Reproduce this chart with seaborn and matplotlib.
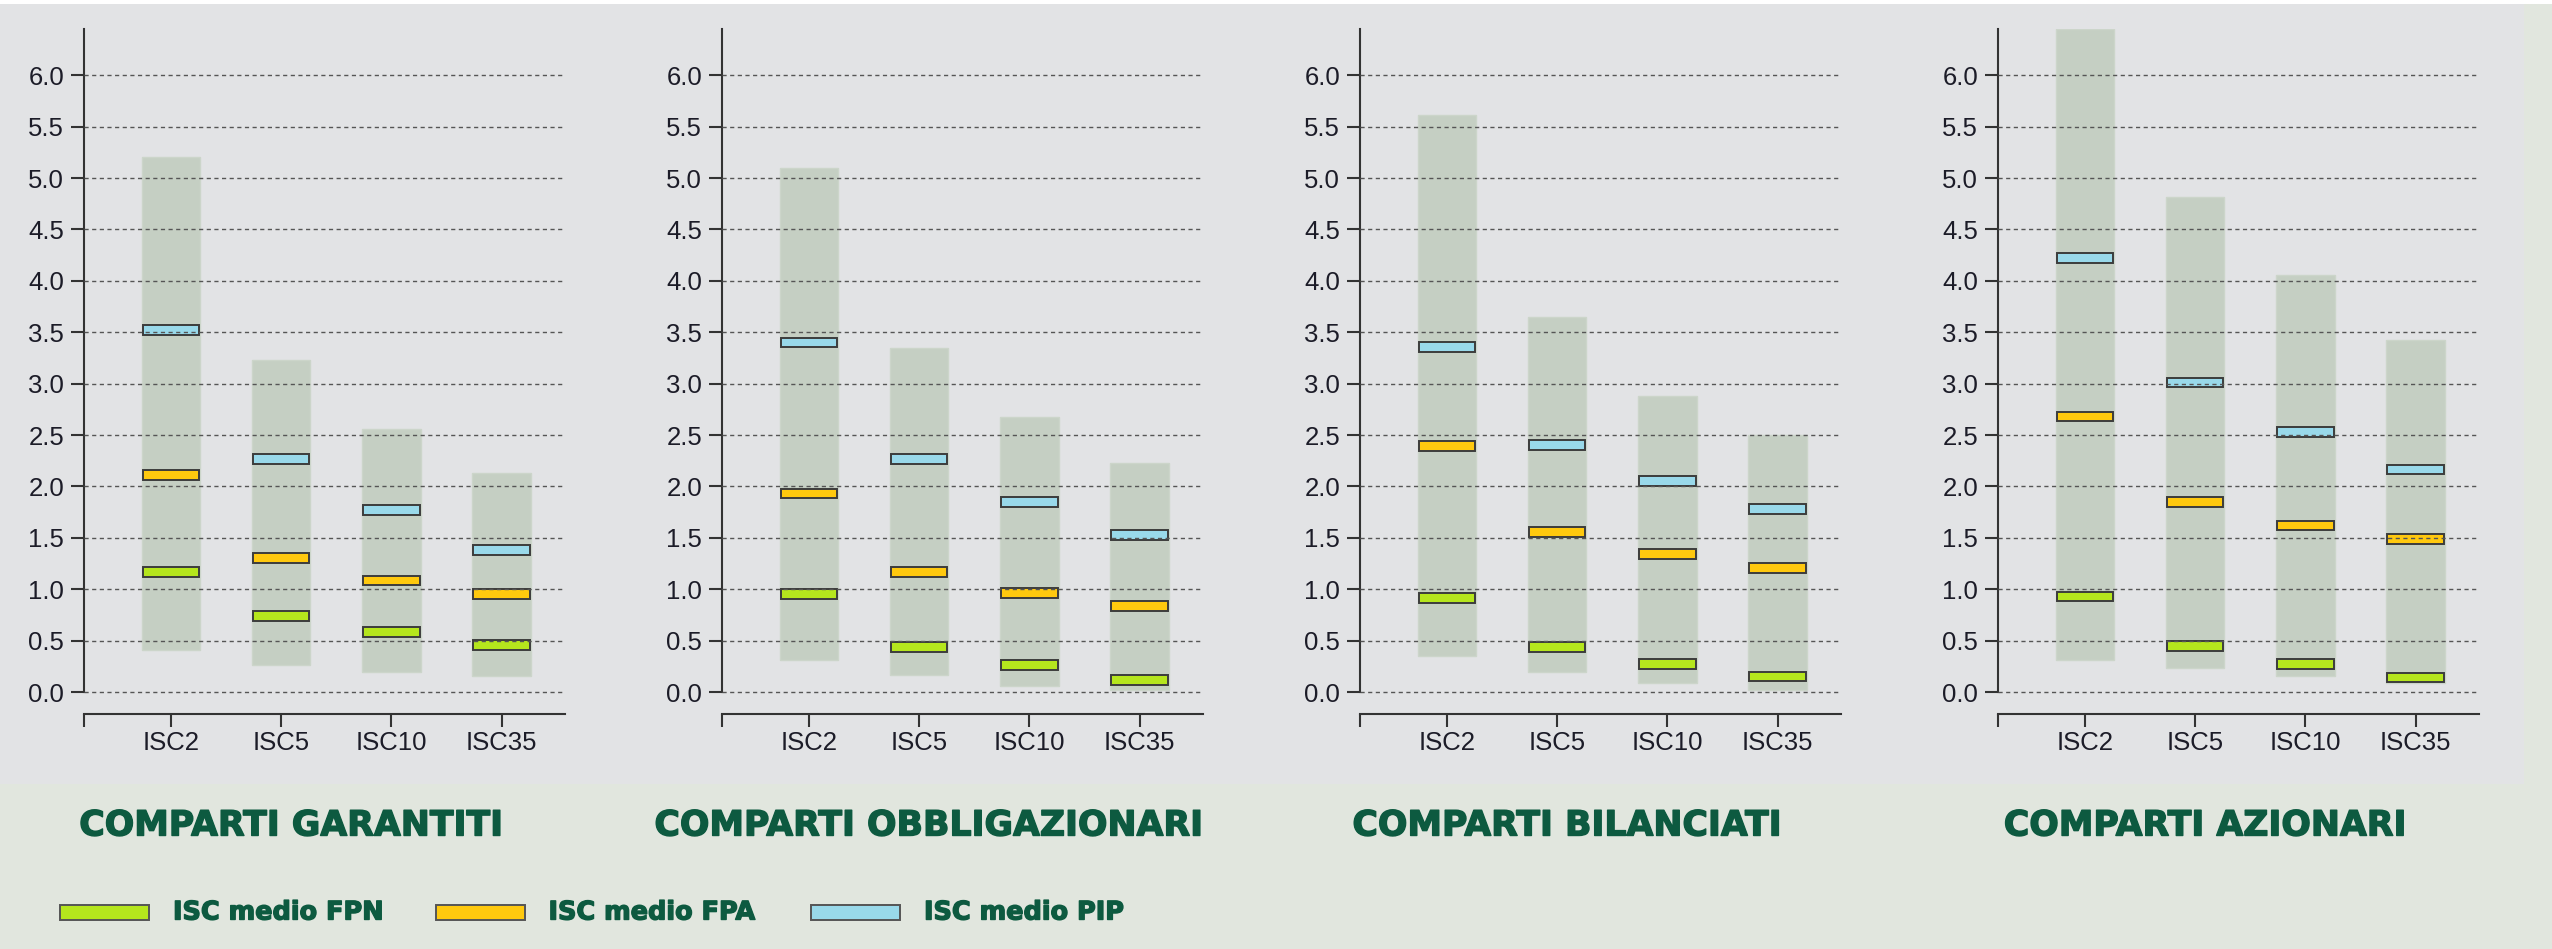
import numpy as np
import pandas as pd
import matplotlib
matplotlib.use("Agg")
import matplotlib.pyplot as plt
import matplotlib.patheffects as pe
from matplotlib.patches import Rectangle
import seaborn as sns

# ISC values (percent)
categories = ["ISC2", "ISC5", "ISC10", "ISC35"]
titles = ["COMPARTI GARANTITI", "COMPARTI OBBLIGAZIONARI",
          "COMPARTI BILANCIATI", "COMPARTI AZIONARI"]

garantiti_min = [0.41, 0.26, 0.19, 0.155]
garantiti_max = [5.20, 3.23, 2.56, 2.13]
garantiti_fpn = [1.165, 0.74, 0.58, 0.46]
garantiti_fpa = [2.11, 1.30, 1.085, 0.95]
garantiti_pip = [3.52, 2.27, 1.77, 1.38]

obbligazionari_min = [0.31, 0.165, 0.06, 0.015]
obbligazionari_max = [5.10, 3.35, 2.68, 2.23]
obbligazionari_fpn = [0.95, 0.44, 0.26, 0.12]
obbligazionari_fpa = [1.93, 1.165, 0.96, 0.84]
obbligazionari_pip = [3.40, 2.27, 1.85, 1.53]

bilanciati_min = [0.35, 0.19, 0.085, 0.015]
bilanciati_max = [5.61, 3.65, 2.88, 2.50]
bilanciati_fpn = [0.915, 0.44, 0.27, 0.15]
bilanciati_fpa = [2.39, 1.56, 1.345, 1.21]
bilanciati_pip = [3.36, 2.40, 2.05, 1.78]

azionari_min = [0.31, 0.23, 0.155, 0.085]
azionari_max = [6.45, 4.82, 4.06, 3.42]
azionari_fpn = [0.93, 0.45, 0.27, 0.14]
azionari_fpa = [2.68, 1.845, 1.62, 1.49]
azionari_pip = [4.22, 3.01, 2.53, 2.165]

series_names = ["ISC medio FPN", "ISC medio FPA", "ISC medio PIP"]
series_colors = ["#b5e61d", "#ffc90e", "#99d9ea"]

panels = [
    (garantiti_min, garantiti_max, garantiti_fpn, garantiti_fpa, garantiti_pip),
    (obbligazionari_min, obbligazionari_max, obbligazionari_fpn, obbligazionari_fpa, obbligazionari_pip),
    (bilanciati_min, bilanciati_max, bilanciati_fpn, bilanciati_fpa, bilanciati_pip),
    (azionari_min, azionari_max, azionari_fpn, azionari_fpa, azionari_pip),
]

W, H = 2552, 949
sns.set_theme(style="ticks")
plt.rcParams["font.family"] = ["Liberation Sans", "DejaVu Sans"]

title_color = "#0d5a40"
axis_color = "#333333"
label_color = "#1c1c28"
heavy = [pe.withStroke(linewidth=1.0, foreground=title_color)]

fig = plt.figure(figsize=(W / 100, H / 100), dpi=100)
fig.patch.set_facecolor("#e1e6de")
fig.add_artist(Rectangle((0, 1 - 784 / H), 2524 / W, 784 / H, transform=fig.transFigure,
                         facecolor="#e2e3e5", edgecolor="none", zorder=0))
fig.add_artist(Rectangle((0, 1 - 4 / H), 1, 4 / H, transform=fig.transFigure,
                         facecolor="white", edgecolor="none", zorder=0))

# layout in pixels
axis_px = [84, 722, 1360, 1998]
ax_w = 481
first_off = 87      # from axis to first category
step = 110.2        # px per category
ymin, ymax = -0.05, 6.45
y0_px, ytop_px = 692, 29
px_per_unit = (y0_px - ytop_px) / ymax
ax_bottom_px = y0_px - ymin * px_per_unit
ax_h = ax_bottom_px - ytop_px
mark_h = 0.095

for i, (lo, hi, fpn, fpa, pip) in enumerate(panels):
    ax = fig.add_axes([axis_px[i] / W, (H - ax_bottom_px) / H, ax_w / W, ax_h / H])
    ax.set_facecolor("none")

    df = pd.DataFrame({"cat": categories, "lo": lo, "hi": hi,
                       "FPN": fpn, "FPA": fpa, "PIP": pip})
    df["span"] = df["hi"] - df["lo"]
    df["mark"] = mark_h

    # min-max range of each indicator
    sns.barplot(data=df, x="cat", y="span", order=categories, bottom=df["lo"].to_numpy(),
                color="#c5cfc3", saturation=1, width=0.53, errorbar=None,
                edgecolor="#ccd5ca", linewidth=1.0, ax=ax, zorder=1)

    # average ISC marks
    for key, col in zip(["FPN", "FPA", "PIP"], series_colors):
        sns.barplot(data=df, x="cat", y="mark", order=categories,
                    bottom=(df[key] - mark_h / 2).to_numpy(),
                    color=col, saturation=1, width=0.51, errorbar=None,
                    edgecolor="#3c3c3c", linewidth=1.4, ax=ax, zorder=2)

    ax.set_xlim(-first_off / step, (ax_w - first_off) / step)
    ax.set_ylim(ymin, ymax)
    ax.set_xlabel("")
    ax.set_ylabel("")

    yt = np.arange(0, 6.01, 0.5)
    ax.set_yticks(yt)
    ax.set_yticklabels([f"{v:.1f}" for v in yt])
    ax.yaxis.grid(True, color="#555555", linestyle=(0, (3, 2.5)), linewidth=1.0)
    ax.xaxis.grid(False)
    ax.set_axisbelow(False)

    ax.set_xticks(range(len(categories)))
    ax.set_xticklabels(categories)
    ax.set_xticks([ax.get_xlim()[0]], minor=True)

    sns.despine(ax=ax)
    ax.spines["bottom"].set_position(("outward", 12.2))
    ax.spines["left"].set_bounds(0, ymax)
    for s in ["left", "bottom"]:
        ax.spines[s].set_color(axis_color)
        ax.spines[s].set_linewidth(1.5)

    ax.tick_params(axis="y", length=9.4, width=1.5, color=axis_color, pad=5,
                   labelsize=18.5, labelcolor=label_color)
    ax.tick_params(axis="x", which="both", length=9.2, width=1.5, color=axis_color,
                   pad=3, labelsize=18.5, labelcolor=label_color)

    cx = (axis_px[i] + ax_w / 2 - 33) / W
    fig.text(cx, 1 - 825.5 / H, titles[i], ha="center", va="center",
             fontsize=25, fontweight="bold", color=title_color,
             family=["DejaVu Sans"], path_effects=heavy)

# legend
for j, (name, col) in enumerate(zip(series_names, series_colors)):
    left = 60 + j * 375.5
    fig.add_artist(Rectangle((left / W, 1 - 920 / H), 89 / W, 15 / H,
                             transform=fig.transFigure, facecolor=col,
                             edgecolor="#555555", linewidth=1.4))
    fig.text((left + 113) / W, 1 - 912.5 / H, name, ha="left", va="center",
             fontsize=18.4, fontweight="bold", color=title_color,
             family=["DejaVu Sans"], path_effects=heavy)

fig.savefig("out.png", dpi=100, facecolor=fig.get_facecolor())
